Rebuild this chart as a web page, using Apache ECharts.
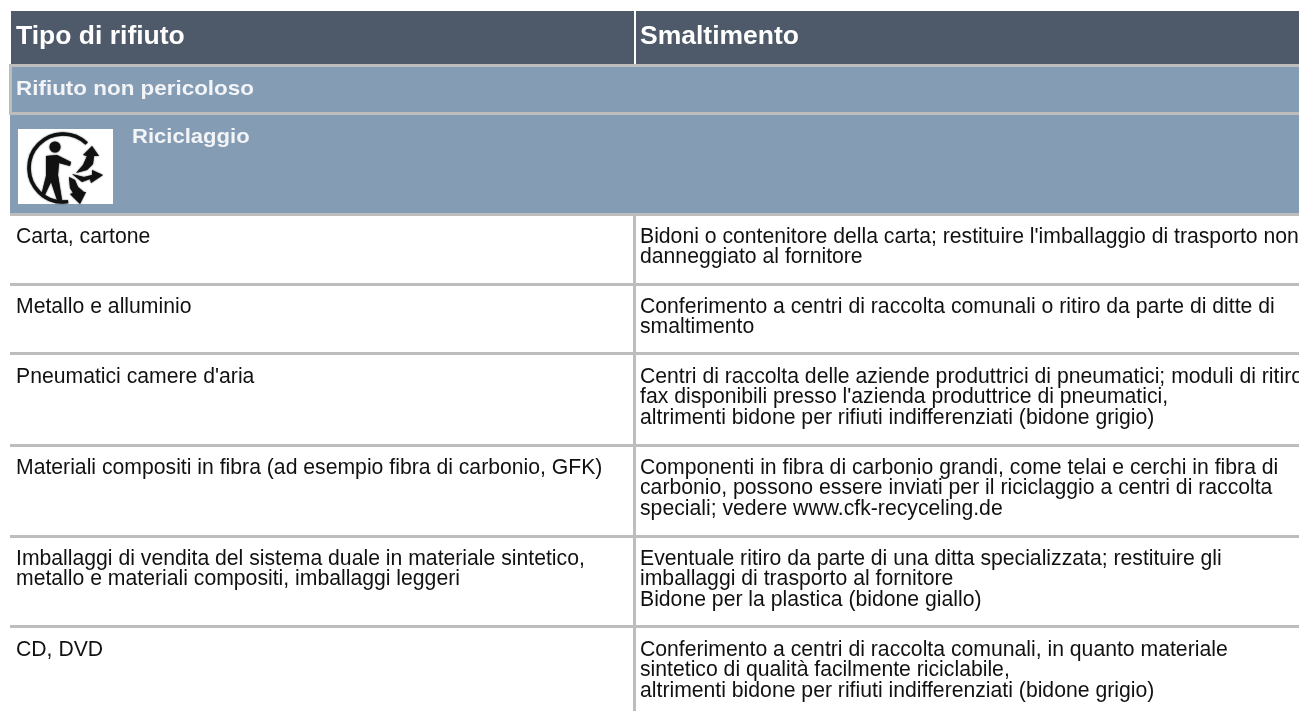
<!DOCTYPE html>
<html><head><meta charset="utf-8"><style>html,body{margin:0;padding:0;background:#fff}#c{width:1299px;height:711px}</style>
<script src="https://cdn.jsdelivr.net/npm/echarts@6/dist/echarts.min.js"></script></head><body><div id="c"></div>
<script>
const headers = ["Tipo di rifiuto", "Smaltimento"];
const groupTitle = "Rifiuto non pericoloso";
const subTitle = "Riciclaggio";
const wasteTypes = [
  ["Carta, cartone"],
  ["Metallo e alluminio"],
  ["Pneumatici camere d'aria"],
  ["Materiali compositi in fibra (ad esempio fibra di carbonio, GFK)"],
  ["Imballaggi di vendita del sistema duale in materiale sintetico,", "metallo e materiali compositi, imballaggi leggeri"],
  ["CD, DVD"]
];
const disposal = [
  ["Bidoni o contenitore della carta; restituire l'imballaggio di trasporto non", "danneggiato al fornitore"],
  ["Conferimento a centri di raccolta comunali o ritiro da parte di ditte di", "smaltimento"],
  ["Centri di raccolta delle aziende produttrici di pneumatici; moduli di ritiro", "fax disponibili presso l'azienda produttrice di pneumatici,", "altrimenti bidone per rifiuti indifferenziati (bidone grigio)"],
  ["Componenti in fibra di carbonio grandi, come telai e cerchi in fibra di", "carbonio, possono essere inviati per il riciclaggio a centri di raccolta", "speciali; vedere www.cfk-recyceling.de"],
  ["Eventuale ritiro da parte di una ditta specializzata; restituire gli", "imballaggi di trasporto al fornitore", "Bidone per la plastica (bidone giallo)"],
  ["Conferimento a centri di raccolta comunali, in quanto materiale", "sintetico di qualità facilmente riciclabile,", "altrimenti bidone per rifiuti indifferenziati (bidone grigio)"]
];

const font = '"Liberation Sans", Arial, sans-serif';
const W = 1299, H = 711, grey = '#bdbdbd';
const separators = [283, 352, 444, 535, 625];
const firstLines = [237, 307, 377, 468, 559, 650];
const rect = (x, y, w, h, fill) => ({type:'rect', shape:{x, y, width:w, height:h}, style:{fill}, silent:true});
const text = (x, y, t, size, weight, fill, sx) => ({type:'text', x, y, scaleX:sx||1, style:{text:t, font:`${weight} ${size}px ${font}`, fill, textVerticalAlign:'middle'}, silent:true});
const els = [];
els.push(rect(11, 11, W-11, 53, '#4e5a6a'));
els.push(rect(634, 11, 2, 53, '#ffffff'));
els.push(rect(9, 64, W-9, 3, grey));
els.push(rect(9, 67, 3, 48, grey));
els.push(rect(12, 67, W-12, 45, '#859cb5'));
els.push(rect(10, 112, W-10, 3, grey));
els.push(rect(10, 115, W-10, 98, '#859cb5'));
els.push(rect(10, 213, W-10, 3, grey));
els.push(text(16, 37, headers[0], 26.5, 'bold', '#ffffff'));
els.push(text(640, 37, headers[1], 26.5, 'bold', '#ffffff'));
els.push(text(16, 89, groupTitle, 21, 'bold', '#f2f4f7', 1.068));
els.push(text(132, 137, subTitle, 21, 'bold', '#f2f4f7', 1.05));
// recycling pictogram
els.push(rect(18, 129, 95, 75, '#ffffff'));
const black = '#111111';
const blur = {shadowBlur:1.5, shadowColor:'#111111'};
els.push({type:'arc', shape:{cx:63, cy:168, r:34, startAngle:-0.8, endAngle:1.42, clockwise:false}, silent:true, style:{fill:'none', stroke:black, lineWidth:3.5, ...blur}});
els.push({type:'circle', shape:{cx:55, cy:147, r:5.5}, silent:true, style:{fill:black, ...blur}});
els.push({type:'polygon', shape:{points:[[46,156],[57,155],[71,162],[70,166],[59,163],[58,175],[62,200],[57,200],[51,182],[44,197],[41,196],[46,176]]}, silent:true, style:{fill:black, ...blur}});
els.push({type:'polygon', shape:{points:[[92,146],[99,156],[94,156],[93,164],[87,170],[76,173],[83,165],[87,156],[83,155]]}, silent:true, style:{fill:black, ...blur}});
els.push({type:'polygon', shape:{points:[[72,174],[84,177],[92,175],[92,170],[103,175],[91,183],[90,179],[82,182]]}, silent:true, style:{fill:black, ...blur}});
els.push({type:'polygon', shape:{points:[[69,177],[75,180],[78,187],[84,192],[86,192],[80,204],[70,194],[73,193],[70,188]]}, silent:true, style:{fill:black, ...blur}});
// rows
separators.forEach(y => els.push(rect(10, y, W-10, 3, grey)));
els.push(rect(633, 216, 3, H-216, grey));
wasteTypes.forEach((lines, i) => lines.forEach((l, j) => els.push(text(16, firstLines[i]+j*20.5, l, 21.2, 'normal', '#111111'))));
disposal.forEach((lines, i) => lines.forEach((l, j) => els.push(text(640, firstLines[i]+j*20.5, l, 21.2, 'normal', '#111111'))));
const chart = echarts.init(document.getElementById('c'), null, {renderer:'canvas'});
chart.setOption({animation:false, backgroundColor:'#ffffff', graphic:{elements:els}});
</script></body></html>
